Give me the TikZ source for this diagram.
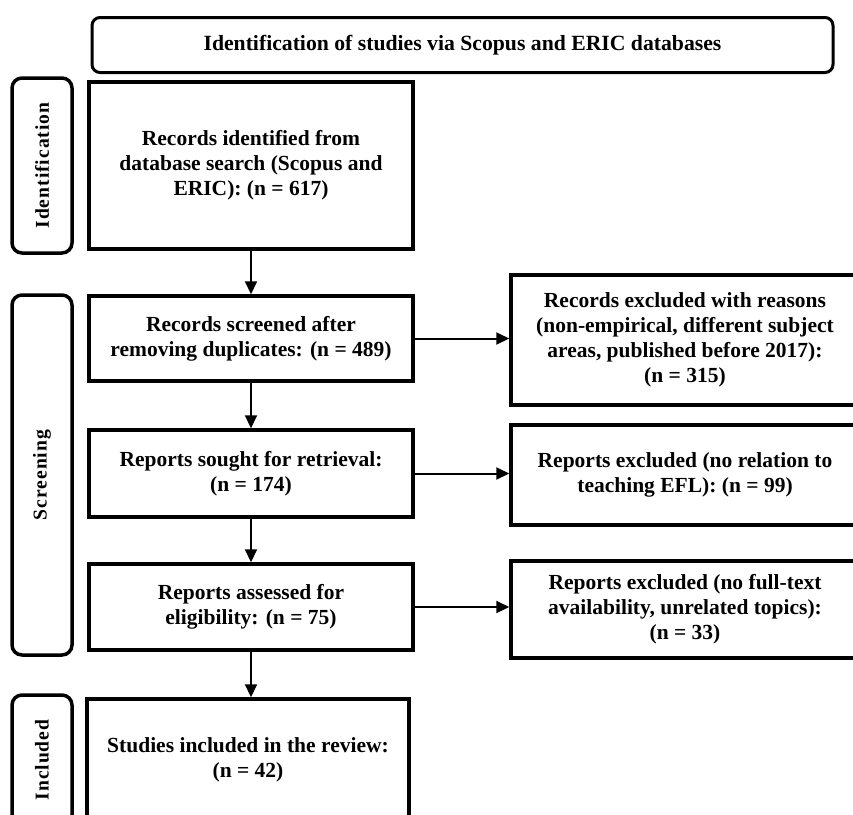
\documentclass[tikz,border=0pt]{standalone}
\usepackage{fontspec}
\setmainfont{Liberation Serif}
\usetikzlibrary{arrows.meta}
\tikzset{
  mainbox/.style={draw, line width=3.5pt, inner sep=0pt, align=center,
    font=\fontsize{21.5}{25}\selectfont\bfseries},
  sidebox/.style={draw, line width=3.5pt, rounded corners=10pt, inner sep=0pt,
    minimum width=60pt},
  sidelabel/.style={rotate=90, font=\fontsize{19.6}{23}\selectfont\bfseries\addfontfeatures{LetterSpace=5}},
  flow/.style={line width=2pt, -{Triangle[length=13pt,width=12pt]}}
}
\begin{document}
\begin{tikzpicture}[x=1pt,y=-1pt]
\useasboundingbox (0,0) rectangle (853,814);
\clip (0,0) rectangle (853,814);
% header
\node[mainbox, line width=3pt, rounded corners=8pt, minimum width=741pt, minimum height=55pt,
  font=\fontsize{21.7}{25}\selectfont\bfseries] (top) at (462.5,45)
  {Identification of studies via Scopus and ERIC databases};
% side boxes
\node[sidebox, minimum height=175pt] (idside) at (42,165.5) {};
\node[sidelabel] (idlab) at (idside) {Identification};
\node[sidebox, minimum height=360pt] (scrside) at (42,475) {};
\node[sidelabel] (scrlab) at (scrside) {Screening};
\node[sidebox, minimum height=130pt] (incside) at (42,760) {};
\node[sidelabel] (inclab) at (incside) {Included};
% main column
\node[mainbox, minimum width=324pt, minimum height=167pt] (rec) at (251,165.5)
  {Records identified from\\database search (Scopus and\\ERIC): (n = 617)};
\node[mainbox, minimum width=324pt, minimum height=85pt] (scr) at (251,338.5)
  {Records screened after\\removing duplicates: (n = 489)};
\node[mainbox, minimum width=324pt, minimum height=87pt] (sought) at (251,473.5)
  {Reports sought for retrieval:\\(n = 174)};
\node[mainbox, minimum width=324pt, minimum height=86pt] (assess) at (251,607)
  {Reports assessed for\\eligibility: (n = 75)};
\node[mainbox, minimum width=322pt, minimum height=122pt] (studies) at (248,760)
  {Studies included in the review:\\(n = 42)};
% exclusion column
\node[mainbox, minimum width=348pt, minimum height=130pt] (ex1) at (685,340)
  {Records excluded with reasons\\(non-empirical, different subject\\areas, published before 2017):\\(n = 315)};
\node[mainbox, minimum width=348pt, minimum height=100pt] (ex2) at (685,475)
  {Reports excluded (no relation to\\teaching EFL): (n = 99)};
\node[mainbox, minimum width=348pt, minimum height=97pt] (ex3) at (685,609.5)
  {Reports excluded (no full-text\\availability, unrelated topics):\\(n = 33)};
% arrows
\draw[flow] (rec.south) -- (scr.north);
\draw[flow] (scr.south) -- (sought.north);
\draw[flow] (sought.south) -- (assess.north);
\draw[flow] (assess.south) -- (assess.south |- studies.north);
\draw[flow] (scr.east) -- (scr.east -| ex1.west);
\draw[flow] (sought.east) -- (sought.east -| ex2.west);
\draw[flow] (assess.east) -- (assess.east -| ex3.west);
\end{tikzpicture}
\end{document}
